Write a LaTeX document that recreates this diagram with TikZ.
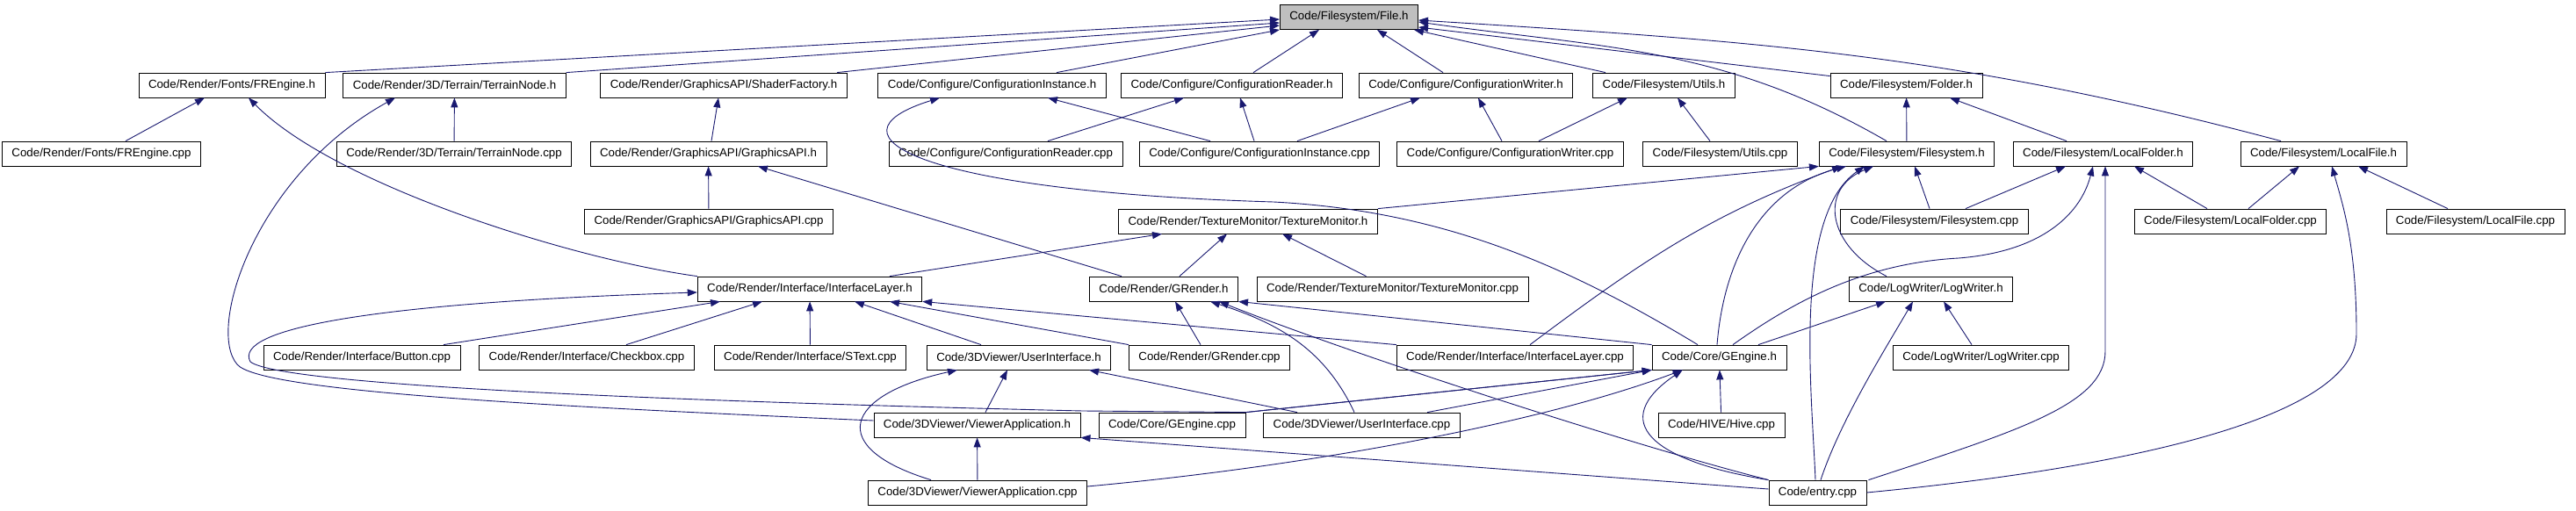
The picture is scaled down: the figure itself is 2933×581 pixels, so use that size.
\documentclass[tikz,border=0pt]{standalone}
\usepackage{fontspec}
\setmainfont{Liberation Sans}
\usepackage{xcolor}
\usetikzlibrary{arrows.meta,calc}
\definecolor{edgeblue}{HTML}{191970}

\begin{document}
\begin{tikzpicture}[x=1pt, y=-1pt,
  inc/.style={rectangle, draw=black, fill=white, line width=0.8pt,
              minimum height=28pt, inner xsep=11pt, inner ysep=0pt,
              font=\fontsize{13.3}{16}\selectfont},
  cur/.style={inc, fill=black!25},
  dep/.style={-{Triangle[length=11pt,width=8pt]}, line width=0.9pt, draw=edgeblue},
]
\fill[white] (0,0) rectangle (2933,581);
\useasboundingbox (0,0) rectangle (2933,581);

\node[cur] (fileh) at (1536,19.5) {Code/Filesystem/File.h};

\node[inc] (frengh) at (264,97)    {Code/Render/Fonts/FREngine.h};
\node[inc] (terrh)  at (517.5,97)  {Code/Render/3D/Terrain/TerrainNode.h};
\node[inc] (shadh)  at (824,97)    {Code/Render/GraphicsAPI/ShaderFactory.h};
\node[inc] (cinsth) at (1129.5,97) {Code/Configure/ConfigurationInstance.h};
\node[inc] (creadh) at (1402.5,97) {Code/Configure/ConfigurationReader.h};
\node[inc] (cwrith) at (1669,97)   {Code/Configure/ConfigurationWriter.h};
\node[inc] (utilh)  at (1894.5,97) {Code/Filesystem/Utils.h};
\node[inc] (foldh)  at (2170.5,97) {Code/Filesystem/Folder.h};

\node[inc] (frengc) at (115.5,175)  {Code/Render/Fonts/FREngine.cpp};
\node[inc] (terrc)  at (517,175)    {Code/Render/3D/Terrain/TerrainNode.cpp};
\node[inc] (gapih)  at (806.5,175)  {Code/Render/GraphicsAPI/GraphicsAPI.h};
\node[inc] (creadc) at (1145,175)   {Code/Configure/ConfigurationReader.cpp};
\node[inc] (cinstc) at (1434,175)   {Code/Configure/ConfigurationInstance.cpp};
\node[inc] (cwritc) at (1719.5,175) {Code/Configure/ConfigurationWriter.cpp};
\node[inc] (utilc)  at (1958.5,175) {Code/Filesystem/Utils.cpp};
\node[inc] (fsh)    at (2171,175)   {Code/Filesystem/Filesystem.h};
\node[inc] (lfoldh) at (2394.5,175) {Code/Filesystem/LocalFolder.h};
\node[inc] (lfileh) at (2645.5,175) {Code/Filesystem/LocalFile.h};

\node[inc] (gapic)  at (807,252)    {Code/Render/GraphicsAPI/GraphicsAPI.cpp};
\node[inc] (texh)   at (1421,252)   {Code/Render/TextureMonitor/TextureMonitor.h};
\node[inc] (fsc)    at (2202.5,252) {Code/Filesystem/Filesystem.cpp};
\node[inc] (lfoldc) at (2539.5,252) {Code/Filesystem/LocalFolder.cpp};
\node[inc] (lfilec) at (2818.5,252) {Code/Filesystem/LocalFile.cpp};

\node[inc] (ilayh)  at (922,329)    {Code/Render/Interface/InterfaceLayer.h};
\node[inc] (grendh) at (1325,329)   {Code/Render/GRender.h};
\node[inc] (texc)   at (1585.5,329) {Code/Render/TextureMonitor/TextureMonitor.cpp};
\node[inc] (logh)   at (2198.5,329) {Code/LogWriter/LogWriter.h};

\node[inc] (buttc)  at (412,407)    {Code/Render/Interface/Button.cpp};
\node[inc] (checkc) at (668,407)    {Code/Render/Interface/Checkbox.cpp};
\node[inc] (stextc) at (922.5,407)  {Code/Render/Interface/SText.cpp};
\node[inc] (uih)    at (1160,407)   {Code/3DViewer/UserInterface.h};
\node[inc] (grendc) at (1377,407)   {Code/Render/GRender.cpp};
\node[inc] (ilayc)  at (1725,407)   {Code/Render/Interface/InterfaceLayer.cpp};
\node[inc] (gengh)  at (1957.5,407) {Code/Core/GEngine.h};
\node[inc] (logc)   at (2255.5,407) {Code/LogWriter/LogWriter.cpp};

\node[inc] (vah)    at (1112.5,484) {Code/3DViewer/ViewerApplication.h};
\node[inc] (gengc)  at (1334.5,484) {Code/Core/GEngine.cpp};
\node[inc] (uic)    at (1550.5,484) {Code/3DViewer/UserInterface.cpp};
\node[inc] (hivec)  at (1960,484)   {Code/HIVE/Hive.cpp};

\node[inc] (vac)    at (1113,561)   {Code/3DViewer/ViewerApplication.cpp};
\node[inc] (entryc) at (2069.5,561) {Code/entry.cpp};

\draw[dep] (frengh.north east) -- ([yshift=-2.5pt]fileh.west);
\draw[dep] (terrh.north east) -- ([yshift=-6.5pt]fileh.west);
\draw[dep] ([xshift=129pt]shadh.north) -- ([yshift=-9.5pt]fileh.west);
\draw[dep] ([xshift=73.5pt]cinsth.north) -- (fileh.south west);
\draw[dep] ([xshift=24.5pt]creadh.north) -- ([xshift=-34pt]fileh.south);
\draw[dep] ([xshift=-26pt]cwrith.north) -- ([xshift=32pt]fileh.south);
\draw[dep] ([xshift=-66.5pt]utilh.north) -- ([xshift=74pt]fileh.south);
\draw[dep] ([yshift=-4pt]foldh.north west) -- ([yshift=-11.5pt]fileh.east);
\draw[dep] ([xshift=-23pt]fsh.north) .. controls (1962,53) and (1828,55) .. ([yshift=-5.5pt]fileh.east);
\draw[dep] ([xshift=-48.5pt]lfileh.north) .. controls (2222,61) and (2002,47) .. ([yshift=-3.5pt]fileh.east);

\draw[dep] ([xshift=27.5pt]frengc.north) -- ([xshift=-31pt]frengh.south);
\draw[dep] (ilayh.north west) .. controls (650,295) and (380,210) .. ([xshift=19pt]frengh.south);
\draw[dep] (terrc) -- (terrh);
\draw[dep] ([yshift=5pt]vah.west) .. controls (600,462) and (295,445) .. (270,415)
  .. controls (235,375) and (290,200) .. ([xshift=-67.5pt]terrh.south);
\draw[dep] ([xshift=3.5pt]gapih.north) -- ([xshift=-6pt]shadh.south);
\draw[dep] (gapic) -- (gapih);
\draw[dep] ([xshift=-48pt]grendh.north) -- ([xshift=56.5pt]gapih.south);
\draw[dep] ([xshift=-56pt]cinstc.north) -- ([xshift=63.5pt]cinsth.south);
\draw[dep] ([xshift=-24.5pt]gengh.north) .. controls (1780,300) and (1640,240) .. (1450,230)
  .. controls (1050,218) and (930,155) .. ([xshift=-59.5pt]cinsth.south);
\draw[dep] ([xshift=48pt]creadc.north) -- ([xshift=-54.5pt]creadh.south);
\draw[dep] ([xshift=-6pt]cinstc.north) -- ([xshift=9.5pt]creadh.south);
\draw[dep] ([xshift=43pt]cinstc.north) -- ([xshift=-52pt]cwrith.south);
\draw[dep] ([xshift=-9.5pt]cwritc.north) -- ([xshift=14pt]cwrith.south);
\draw[dep] ([xshift=32.5pt]cwritc.north) -- ([xshift=-41.5pt]utilh.south);
\draw[dep] ([xshift=-11.5pt]utilc.north) -- ([xshift=15.5pt]utilh.south);
\draw[dep] (fsh) -- (foldh);
\draw[dep] ([xshift=-41.5pt]lfoldh.north) -- ([xshift=49.5pt]foldh.south);

\draw[dep] (texh.north east) -- (fsh.south west);
\draw[dep] ([xshift=17pt]ilayc.north) .. controls (1870,297) and (1947,244) .. ([xshift=-74pt]fsh.south);
\draw[dep] ([xshift=-2.5pt]gengh.north) .. controls (1963,294) and (2007,214) .. ([xshift=-69pt]fsh.south);
\draw[dep] ([xshift=-2.5pt]entryc.north) .. controls (2063,447) and (2041,246) .. ([xshift=-48pt]fsh.south);
\draw[dep] ([xshift=-50.5pt]logh.north) .. controls (2080,280) and (2070,215) .. ([xshift=-38pt]fsh.south);
\draw[dep] ([xshift=-5.5pt]fsc.north) -- ([xshift=9pt]fsh.south);
\draw[dep] ([xshift=35.5pt]fsc.north) -- ([xshift=-42.5pt]lfoldh.south);
\draw[dep] ([xshift=15.5pt]gengh.north) .. controls (2040,345) and (2120,300) .. (2230,294)
  .. controls (2330,286) and (2370,240) .. ([xshift=-11.5pt]lfoldh.south);
\draw[dep] ([xshift=2pt]entryc.north east) .. controls (2300,490) and (2397,460) .. (2397,400)
  -- ([xshift=2.5pt]lfoldh.south);
\draw[dep] ([xshift=-26.5pt]lfoldc.north) -- ([xshift=35.5pt]lfoldh.south);
\draw[dep] ([xshift=20.5pt]lfoldc.north) -- ([xshift=-27.5pt]lfileh.south);
\draw[dep] (entryc.east) .. controls (2450,530) and (2683,470) .. (2683,380)
  .. controls (2683,280) and (2668,235) .. ([xshift=9.5pt]lfileh.south);
\draw[dep] ([xshift=-31.5pt]lfilec.north) -- ([xshift=39.5pt]lfileh.south);

\draw[dep] ([xshift=91pt]ilayh.north) -- ([xshift=-98pt]texh.south);
\draw[dep] ([xshift=18pt]grendh.north) -- ([xshift=-24pt]texh.south);
\draw[dep] ([xshift=-30pt]texc.north) -- ([xshift=39pt]texh.south);

\draw[dep] ([xshift=93pt]buttc.north) -- ([xshift=-102pt]ilayh.south);
\draw[dep] ([xshift=45pt]checkc.north) -- ([xshift=-54pt]ilayh.south);
\draw[dep] (stextc) -- (ilayh);
\draw[dep] ([xshift=-43pt]uih.north) -- ([xshift=51pt]ilayh.south);
\draw[dep] (grendc.north west) -- ([xshift=91pt]ilayh.south);
\draw[dep] (ilayc.north west) -- (ilayh.south east);
\draw[dep] (gengh.south west) -- (gengc.north east) -- (1233,468)
  .. controls (800,458) and (320,440) .. (285,412)
  .. controls (265,375) and (420,345) .. ([yshift=-4pt]ilayh.west);

\draw[dep] ([xshift=-10pt]grendc.north) -- ([xshift=13pt]grendh.south);
\draw[dep] ([xshift=-8.5pt]uic.north) .. controls (1508,397) and (1455,368) .. ([xshift=53pt]grendh.south);
\draw[dep] (entryc.north west) .. controls (1850,505) and (1530,400) .. ([xshift=63pt]grendh.south);
\draw[dep] (gengh.north west) -- (grendh.south east);

\draw[dep] ([xshift=-53pt]vac.north) .. controls (940,510) and (960,450) .. ([xshift=-70pt]uih.south);
\draw[dep] ([xshift=9.5pt]vah.north) -- ([xshift=-13pt]uih.south);
\draw[dep] ([xshift=-73.5pt]uic.north) -- ([xshift=80pt]uih.south);
\draw[dep] (vac) -- (vah);
\draw[dep] ([yshift=4pt]entryc.west) -- (vah.south east);

\draw[dep] (gengc.north east) -- (gengh.south west);
\draw[dep] ([xshift=74.5pt]uic.north) -- (gengh.south west);
\draw[dep] ([yshift=7pt]vac.east) .. controls (1500,530) and (1760,480) .. ([xshift=35pt]gengh.south west);
\draw[dep] (entryc.north west) .. controls (1880,525) and (1830,480) .. ([xshift=35pt]gengh.south west);
\draw[dep] (hivec) -- (gengh);

\draw[dep] ([xshift=44.5pt]gengh.north) -- ([xshift=-51.5pt]logh.south);
\draw[dep] ([xshift=3.5pt]entryc.north) .. controls (2095,480) and (2145,400) .. ([xshift=-20.5pt]logh.south);
\draw[dep] ([xshift=-10.5pt]logc.north) -- ([xshift=14.5pt]logh.south);
\end{tikzpicture}
\end{document}
